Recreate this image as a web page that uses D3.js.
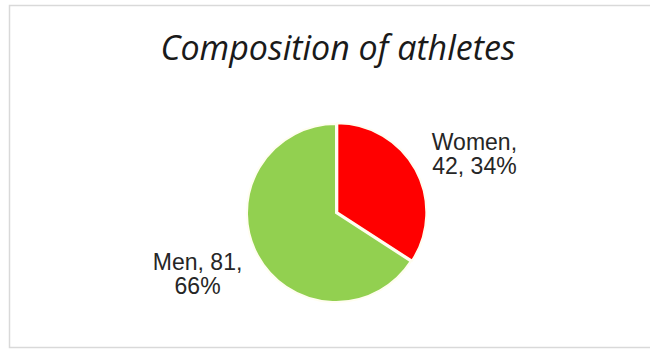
<!DOCTYPE html>
<html><head><meta charset="utf-8">
<script src="https://cdn.jsdelivr.net/npm/d3@7"></script>
<style>html,body{margin:0;padding:0;background:#fff;overflow:hidden;} svg{display:block;}</style>
</head><body>
<svg id="chart" width="650" height="350"></svg>
<script>
const categories = ["Women", "Men"];
const values = [42, 81];
const colors = ["#FF0000", "#92D050"];
const title = "Composition of athletes";

const svg = d3.select("#chart");
svg.append("rect").attr("x", 9.5).attr("y", 5.5).attr("width", 680).attr("height", 342)
  .attr("fill", "#fff").attr("stroke", "#d9d9d9").attr("stroke-width", 1.5);

svg.append("text").attr("x", 338).attr("y", 60).attr("text-anchor", "middle")
  .style("font-family", "'Open Sans', sans-serif").style("font-style", "italic")
  .style("font-size", "34px").attr("fill", "#1a1a1a").text(title);

const cx = 336, cy = 213, r = 89;
const g = svg.append("g").attr("transform", `translate(${cx},${cy})`);
const total = d3.sum(values);
const data = categories.map((c, i) => ({ cat: c, value: values[i], color: colors[i] }));
const pie = d3.pie().value(d => d.value).sort(null);
const arcs = pie(data);
const arc = d3.arc().innerRadius(0).outerRadius(r);
const explode = [1.5, 0];

g.selectAll("path").data(arcs).join("path")
  .attr("d", arc)
  .attr("transform", (d, i) => {
    const a = (d.startAngle + d.endAngle) / 2;
    return `translate(${Math.sin(a) * explode[i]},${-Math.cos(a) * explode[i]})`;
  })
  .attr("fill", d => d.data.color)
  .attr("stroke", "#fffdf0").attr("stroke-width", 2);

const labelR = 151, angShift = 5 * Math.PI / 180;
arcs.forEach(d => {
  const a = (d.startAngle + d.endAngle) / 2 + angShift;
  const x = Math.sin(a) * labelR, y = -Math.cos(a) * labelR;
  const pct = Math.round(d.data.value / total * 100);
  const t = g.append("text").attr("text-anchor", "middle")
    .style("font-family", "'Liberation Sans', Arial, sans-serif").style("font-size", "23px")
    .attr("fill", "#262626");
  let lines;
  if (d.data.cat === "Women") lines = [`${d.data.cat},`, `${d.data.value}, ${pct}%`];
  else lines = [`${d.data.cat}, ${d.data.value},`, `${pct}%`];
  lines.forEach((ln, k) => {
    t.append("tspan").attr("x", x).attr("y", y + (k === 0 ? -3 : 21)).text(ln);
  });
});
</script>
</body></html>
